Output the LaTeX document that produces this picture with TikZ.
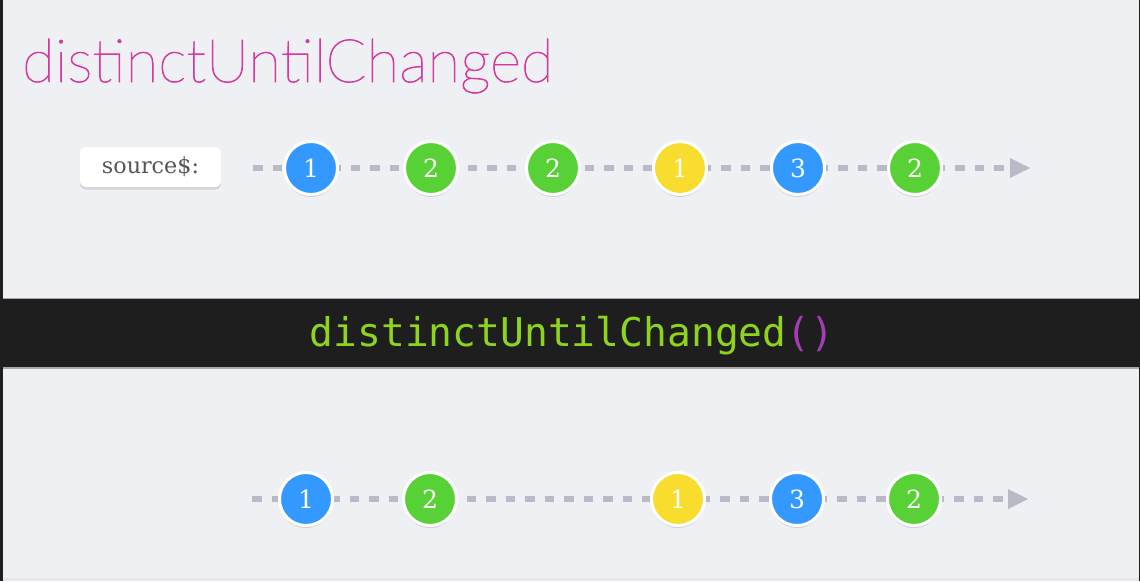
\documentclass[tikz,border=0pt]{standalone}
\usepackage{fontspec}
\usetikzlibrary{shadows}
\newfontfamily\titlefont{Lato Hairline}[BoldFont=Lato Hairline, BoldFeatures={FakeBold=1.3}]
\newfontfamily\opfont{DejaVu Sans Mono}
\newfontfamily\slabfont{DejaVu Serif}
\definecolor{bg}{HTML}{EFF0F4}
\definecolor{edgec}{HTML}{1E1E1E}
\definecolor{bottomc}{HTML}{E6E7EB}
\definecolor{bandc}{HTML}{1E1E1E}
\definecolor{bandedge}{HTML}{A8A8AC}
\definecolor{titlec}{HTML}{D63A9C}
\definecolor{opgreen}{HTML}{8ED41C}
\definecolor{oppurple}{HTML}{A53CB6}
\definecolor{linec}{HTML}{B9B9C7}
\definecolor{mblue}{HTML}{3399FF}
\definecolor{mgreen}{HTML}{58D136}
\definecolor{myellow}{HTML}{F8DC2E}
\definecolor{labeltext}{HTML}{555555}
\tikzset{
  marble/.style={circle, draw=white, line width=3pt, minimum size=53pt, inner sep=0pt,
    text=white, font=\slabfont\fontsize{25}{25}\selectfont,
    drop shadow={shadow xshift=0pt, shadow yshift=-2.5pt, fill=black, opacity=0.13}},
  bluem/.style={marble, fill=mblue},
  greenm/.style={marble, fill=mgreen},
  yellowm/.style={marble, fill=myellow},
  timeline/.style={draw=linec, line width=5.5pt, dash pattern=on 9.5pt off 10pt},
  tiparrow/.style={fill=linec},
  labelbox/.style={rectangle, rounded corners=6pt, fill=white, minimum width=141pt,
    minimum height=40pt, inner sep=0pt, text=labeltext,
    drop shadow={shadow xshift=0pt, shadow yshift=-2.5pt, fill=black, opacity=0.12}}
}
\begin{document}
\begin{tikzpicture}[x=1pt,y=-1pt]
\useasboundingbox (0,0) rectangle (1140,581);
% background and frame
\fill[bg] (0,0) rectangle (1140,581);
\fill[bottomc] (0,578) rectangle (1140,581);
\fill[edgec] (0,0) rectangle (3,581);
\fill[edgec] (1139,0) rectangle (1140,581);
% title
\node[anchor=base west, inner sep=0pt, text=titlec] (title) at (22,82)
  {\resizebox{531pt}{!}{\titlefont\bfseries distinctUntilChanged}};
% operator band
\fill[bandedge] (3,297.5) rectangle (1139,368.5);
\fill[bandc] (3,299) rectangle (1139,367);
\node[anchor=base, inner sep=0pt, font=\opfont\fontsize{39.6}{40}\selectfont] (op) at (572,346)
  {\textcolor{opgreen}{distinctUntilChanged}\textcolor{oppurple}{()}};
% source label
\node[labelbox] (src) at (150.5,167) {\resizebox{97pt}{!}{\slabfont source\$:}};
% top timeline
\coordinate (ta) at (253,168);
\coordinate (tb) at (1010,168);
\draw[timeline] (ta) -- (tb);
\fill[tiparrow] (tb) ++(0,-10) -- ++(20,10) -- ++(-20,10) -- cycle;
\node[bluem]   (t1) at (311,168) {1};
\node[greenm]  (t2) at (431,168) {2};
\node[greenm]  (t3) at (553,168) {2};
\node[yellowm] (t4) at (680,168) {1};
\node[bluem]   (t5) at (798,168) {3};
\node[greenm]  (t6) at (915,168) {2};
% bottom timeline
\coordinate (ba) at (252,499);
\coordinate (bb) at (1008,499);
\draw[timeline] (ba) -- (bb);
\fill[tiparrow] (bb) ++(0,-10) -- ++(20,10) -- ++(-20,10) -- cycle;
\node[bluem]   (b1) at (306,499) {1};
\node[greenm]  (b2) at (430,499) {2};
\node[yellowm] (b3) at (678,499) {1};
\node[bluem]   (b4) at (797,499) {3};
\node[greenm]  (b5) at (914,499) {2};
\end{tikzpicture}
\end{document}
